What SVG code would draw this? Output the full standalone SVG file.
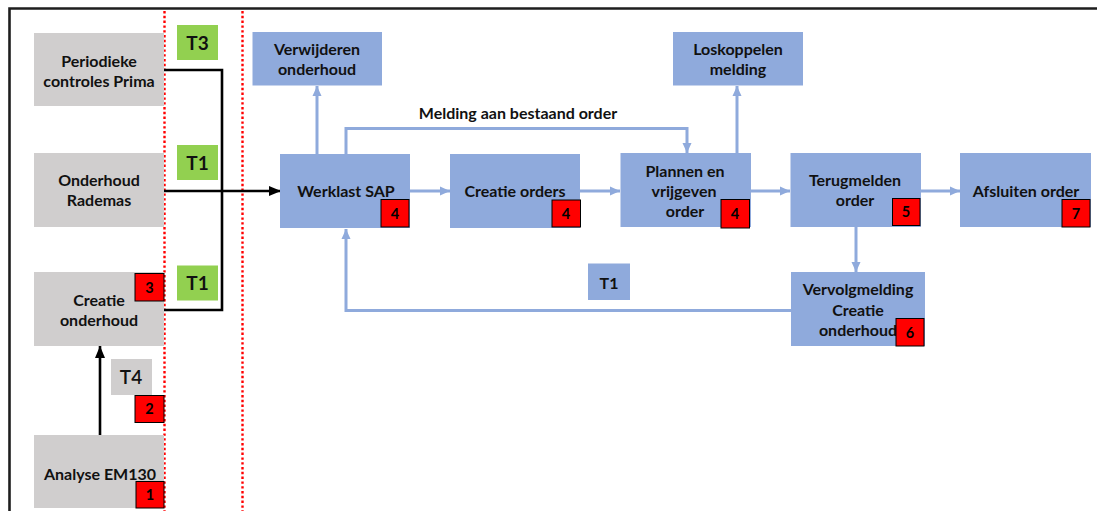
<svg xmlns="http://www.w3.org/2000/svg" width="1097" height="511" viewBox="0 0 1097 511">
  <defs>
    <style>
      text { font-family: Lato, "Open Sans", "Liberation Sans", sans-serif; font-weight: bold; fill: #111; text-anchor: middle; }
      .lbl { font-size: 16px; }
      .tag { font-size: 19px; }
      .num { font-size: 14.5px; fill: #000; }
      .grey { fill: #D0CECE; }
      .blue { fill: #8FAADC; }
      .green { fill: #92D050; }
      .badge { fill: #FF0000; stroke: #000; stroke-width: 1; }
      .bl { fill: none; stroke: #000; stroke-width: 2.6; }
      .bu { fill: none; stroke: #8FAADC; stroke-width: 3; }
      .sep { fill: none; stroke: #FF0000; stroke-width: 2.4; stroke-dasharray: 2.4 2.4; }
    </style>
    <marker id="ablue" markerUnits="userSpaceOnUse" markerWidth="10" markerHeight="10" viewBox="0 0 10 10" refX="10" refY="5" orient="auto">
      <path d="M0,0.5 L10,5 L0,9.5 z" fill="#8FAADC"/>
    </marker>
    <marker id="ablack" markerUnits="userSpaceOnUse" markerWidth="12" markerHeight="12" viewBox="0 0 12 12" refX="12" refY="6" orient="auto">
      <path d="M0,1 L12,6 L0,11 z" fill="#000"/>
    </marker>
  </defs>

  <rect width="1097" height="511" fill="#fff"/>

  <!-- frame -->
  <g id="frame">
    <path d="M9.5,511 V8.5 H1097" fill="none" stroke="#1e1e1e" stroke-width="2.6"/>
  </g>

  <!-- lane separators -->
  <g id="separators">
    <line class="sep" x1="164.5" y1="11" x2="164.5" y2="511"/>
    <line class="sep" x1="242.5" y1="11" x2="242.5" y2="511"/>
  </g>

  <!-- connectors -->
  <g id="connectors">
    <path class="bl" d="M164,70 H222 V310 H164"/>
    <path class="bl" d="M164,191 H281" marker-end="url(#ablack)"/>
    <path class="bl" d="M100,435 V346" marker-end="url(#ablack)"/>

    <path class="bu" d="M317,154 V86" marker-end="url(#ablue)"/>
    <path class="bu" d="M346,154 V128.5 H687 V153" marker-end="url(#ablue)"/>
    <path class="bu" d="M410,191 H450" marker-end="url(#ablue)"/>
    <path class="bu" d="M580,191 H620" marker-end="url(#ablue)"/>
    <path class="bu" d="M737,153 V86" marker-end="url(#ablue)"/>
    <path class="bu" d="M751,191 H790" marker-end="url(#ablue)"/>
    <path class="bu" d="M921,191 H960" marker-end="url(#ablue)"/>
    <path class="bu" d="M856,227 V272" marker-end="url(#ablue)"/>
    <path class="bu" d="M791,310.5 H346 V229" marker-end="url(#ablue)"/>
    <text class="lbl" x="518" y="118.5">Melding aan bestaand order</text>
  </g>

  <!-- left lane -->
  <g id="periodieke">
    <rect class="grey" x="34" y="33" width="130" height="73"/>
    <text class="lbl" x="99" y="66.5">Periodieke</text>
    <text class="lbl" x="99" y="86.5">controles Prima</text>
  </g>
  <g id="rademas">
    <rect class="grey" x="34" y="153" width="130" height="74"/>
    <text class="lbl" x="99" y="185.5">Onderhoud</text>
    <text class="lbl" x="99" y="205.5">Rademas</text>
  </g>
  <g id="creatie-onderhoud">
    <rect class="grey" x="34" y="272" width="130" height="74"/>
    <text class="lbl" x="99" y="305.5">Creatie</text>
    <text class="lbl" x="99" y="326">onderhoud</text>
    <rect class="badge" x="135" y="273.5" width="29" height="27.5"/>
    <text class="num" x="149.5" y="292.5">3</text>
  </g>
  <g id="analyse">
    <rect class="grey" x="34" y="435" width="130" height="73"/>
    <text class="lbl" x="100" y="479.5">Analyse EM130</text>
    <rect class="badge" x="136" y="481.5" width="28" height="26.5"/>
    <text class="num" x="150" y="500">1</text>
  </g>
  <g id="t4">
    <rect class="grey" x="111" y="359" width="41" height="36"/>
    <text class="tag" x="131" y="384" style="font-weight:600">T4</text>
    <rect class="badge" x="135" y="395.5" width="29" height="27"/>
    <text class="num" x="149.5" y="414">2</text>
  </g>
  <g id="t3">
    <rect class="green" x="177" y="25" width="41" height="35"/>
    <text class="tag" x="197.5" y="49.5">T3</text>
  </g>
  <g id="t1-a">
    <rect class="green" x="177" y="145" width="41" height="35"/>
    <text class="tag" x="197.5" y="170">T1</text>
  </g>
  <g id="t1-b">
    <rect class="green" x="177" y="265.5" width="41" height="35"/>
    <text class="tag" x="197.5" y="289.5">T1</text>
  </g>

  <!-- process lane -->
  <g id="verwijderen">
    <rect class="blue" x="252.5" y="32" width="129.5" height="53.5"/>
    <text class="lbl" x="317" y="54.5">Verwijderen</text>
    <text class="lbl" x="317" y="74.5">onderhoud</text>
  </g>
  <g id="werklast">
    <rect class="blue" x="280" y="154" width="130" height="74"/>
    <text class="lbl" x="346" y="196.5">Werklast SAP</text>
    <rect class="badge" x="381" y="199.5" width="28" height="27.5"/>
    <text class="num" x="395" y="218.5">4</text>
  </g>
  <g id="creatie-orders">
    <rect class="blue" x="450" y="154" width="130" height="74"/>
    <text class="lbl" x="515" y="196.5">Creatie orders</text>
    <rect class="badge" x="552" y="200" width="28.5" height="27"/>
    <text class="num" x="566" y="218.5">4</text>
  </g>
  <g id="plannen">
    <rect class="blue" x="620.5" y="153" width="130.5" height="74"/>
    <text class="lbl" x="685" y="177">Plannen en</text>
    <text class="lbl" x="684" y="197">vrijgeven</text>
    <text class="lbl" x="685" y="217">order</text>
    <rect class="badge" x="721" y="199.5" width="28.5" height="28.5"/>
    <text class="num" x="735" y="219">4</text>
  </g>
  <g id="loskoppelen">
    <rect class="blue" x="673" y="32" width="130" height="53.5"/>
    <text class="lbl" x="738" y="54.5">Loskoppelen</text>
    <text class="lbl" x="738" y="74.5">melding</text>
  </g>
  <g id="terugmelden">
    <rect class="blue" x="790.5" y="153" width="130.5" height="74"/>
    <text class="lbl" x="855" y="185.5">Terugmelden</text>
    <text class="lbl" x="855" y="205.5">order</text>
    <rect class="badge" x="892.5" y="198.5" width="27.5" height="27"/>
    <text class="num" x="906" y="217">5</text>
  </g>
  <g id="afsluiten">
    <rect class="blue" x="960" y="153" width="131" height="74"/>
    <text class="lbl" x="1026" y="196.5">Afsluiten order</text>
    <rect class="badge" x="1062" y="199.5" width="28" height="27.5"/>
    <text class="num" x="1076" y="218.5">7</text>
  </g>
  <g id="vervolgmelding">
    <rect class="blue" x="791" y="272" width="134" height="74"/>
    <text class="lbl" x="858" y="294.5">Vervolgmelding</text>
    <text class="lbl" x="858" y="315.5">Creatie</text>
    <text class="lbl" x="858" y="335.5">onderhoud</text>
    <rect class="badge" x="896" y="318.5" width="28" height="27.5"/>
    <text class="num" x="910" y="337.5">6</text>
  </g>
  <g id="t1-c">
    <rect class="blue" x="588" y="263.5" width="42" height="36.5"/>
    <text class="lbl" x="609" y="288.5">T1</text>
  </g>
</svg>
